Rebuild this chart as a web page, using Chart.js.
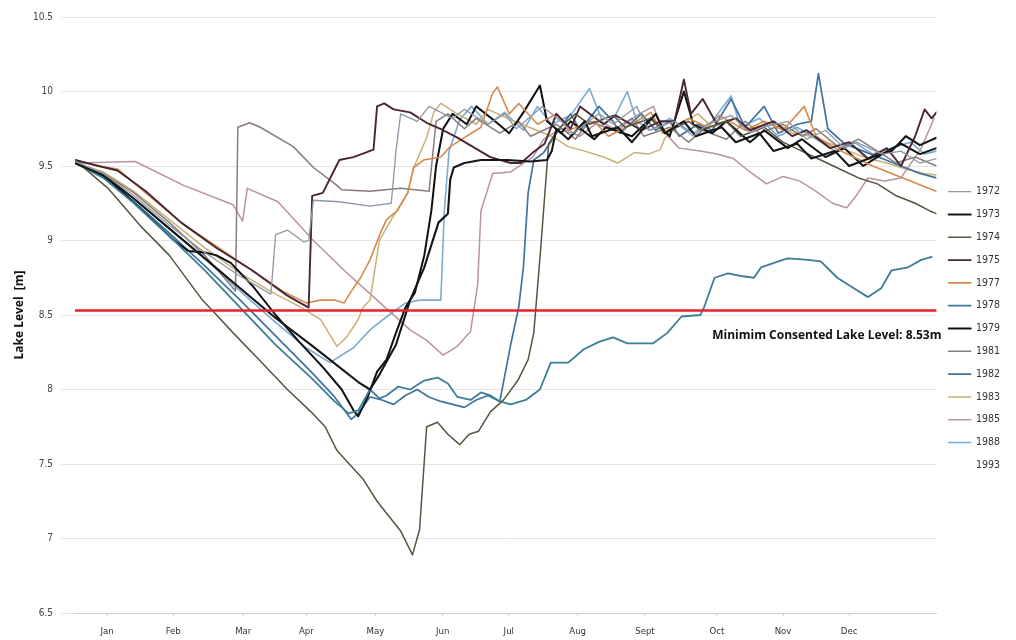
<!DOCTYPE html>
<html>
<head>
<meta charset="utf-8">
<title>Lake Level</title>
<script src="https://cdn.jsdelivr.net/npm/chart.js@4.4.1/dist/chart.umd.min.js"></script>
<style>
  html, body { margin: 0; padding: 0; background: #fff; }
  #lakeChart { display: block; }
</style>
</head>
<body>
<canvas id="lakeChart" width="1016" height="640"></canvas>
<script>
// ---- data: [day of year, lake level (m)] ----
const years = ['1972', '1973', '1974', '1975', '1977', '1978', '1979', '1981', '1982', '1983', '1985', '1988', '1993'];

const monthLabels = ['Jan', 'Feb', 'Mar', 'Apr', 'May', 'Jun', 'Jul', 'Aug', 'Sept', 'Oct', 'Nov', 'Dec'];
const monthTickDays = [13.6, 41.6, 71.3, 98, 127.3, 155.8, 183.8, 213, 241.5, 272, 300, 328];
const levelTicks = [6.5, 7, 7.5, 8, 8.5, 9, 9.5, 10, 10.5];

const minLevel = 8.53;

const lvl1972 = [[0,9.53],[12,9.45],[25,9.3],[40,9.1],[55,8.92],[70,8.76],[83,8.64],[85,9.04],[90,9.07],[97,8.99],[99,9.0],[101,9.27],[112,9.26],[125,9.23],[134,9.25],[136,9.6],[138,9.85],[145,9.8],[150,9.9],[160,9.82],[165,9.88],[175,9.78],[182,9.85],[187,9.75],[198,9.9],[206,9.8],[211,9.72],[222,9.85],[228,9.78],[238,9.9],[243,9.74],[254,9.8],[262,9.7],[268,9.78],[278,9.84],[286,9.72],[291,9.76],[302,9.8],[310,9.68],[318,9.74],[326,9.62],[331,9.66],[342,9.58],[350,9.6],[358,9.52],[365,9.55]];
const lvl1973 = [[0,9.52],[12,9.44],[25,9.28],[40,9.08],[55,8.88],[70,8.68],[85,8.48],[100,8.3],[112,8.15],[120,8.05],[125,8.0],[129,8.1],[136,8.3],[142,8.6],[148,8.82],[154,9.12],[158,9.18],[159,9.41],[160.5,9.49],[165,9.52],[172,9.54],[183,9.54],[193,9.53],[200,9.54],[202,9.6],[204,9.75],[209,9.68],[216,9.8],[219,9.7],[230,9.76],[236,9.66],[246,9.85],[250,9.72],[258,9.8],[263,9.7],[274,9.76],[280,9.66],[290,9.72],[296,9.6],[306,9.65],[312,9.55],[322,9.6],[328,9.5],[338,9.56],[346,9.6],[352,9.7],[358,9.64],[365,9.69]];
const lvl1974 = [[0,9.54],[14,9.35],[27.6,9.1],[40,8.9],[54,8.6],[60,8.5],[67,8.38],[78,8.2],[90,8.0],[100,7.85],[106,7.75],[111,7.59],[122,7.4],[128,7.25],[132,7.17],[138,7.05],[143,6.89],[146,7.06],[149,7.75],[153.6,7.78],[158,7.7],[163,7.63],[167,7.7],[171,7.72],[176,7.85],[181.6,7.93],[187.6,8.06],[192,8.2],[194.4,8.38],[197.3,8.94],[200.7,9.65],[205,9.75],[212,9.85],[218,9.78],[228,9.84],[233,9.76],[244,9.82],[250,9.72],[260,9.8],[265,9.74],[276,9.8],[282,9.7],[292,9.76],[300,9.66],[308,9.6],[316,9.54],[324,9.48],[332,9.42],[340,9.38],[348,9.3],[356,9.25],[362,9.2],[365,9.18]];
const lvl1975 = [[0,9.54],[10,9.5],[18,9.47],[30,9.33],[45,9.12],[60,8.95],[75,8.8],[90,8.63],[99,8.55],[100.5,9.3],[105,9.32],[112,9.54],[118,9.56],[126.5,9.61],[128,9.9],[131,9.92],[135,9.88],[142,9.86],[149,9.79],[156,9.74],[162,9.69],[170.6,9.61],[176,9.56],[184.6,9.52],[189,9.52],[194,9.59],[199,9.65],[204,9.85],[210,9.75],[214,9.9],[224,9.78],[229,9.84],[240,9.74],[248,9.8],[254,9.8],[258,10.08],[261,9.85],[266,9.95],[272,9.78],[280,9.82],[286,9.74],[296,9.8],[304,9.7],[310,9.74],[320,9.62],[328,9.66],[336,9.55],[344,9.62],[350,9.5],[356,9.7],[360,9.88],[363,9.82],[365,9.86]];
const lvl1977 = [[0,9.54],[10,9.5],[18,9.48],[30,9.32],[45,9.12],[60,8.96],[75,8.8],[88,8.66],[98,8.58],[104,8.6],[110,8.6],[114,8.58],[116.7,8.65],[121,8.75],[125,8.87],[129.4,9.05],[132,9.14],[136.6,9.2],[141,9.32],[143.5,9.49],[147.7,9.54],[155,9.56],[159,9.63],[163,9.67],[172,9.76],[177,9.99],[179,10.03],[184,9.85],[188,9.92],[196,9.78],[204,9.85],[209,9.74],[220,9.8],[226,9.7],[236,9.78],[244,9.86],[249,9.72],[260,9.82],[268,9.76],[273,9.84],[284,9.74],[292,9.8],[300,9.74],[309,9.9],[314,9.7],[322,9.62],[330,9.56],[338,9.5],[346,9.45],[354,9.4],[360,9.36],[365,9.33]];
const lvl1978 = [[0,9.52],[12,9.42],[25,9.25],[40,9.03],[55,8.8],[70,8.55],[85,8.3],[100,8.08],[110,7.92],[116,7.84],[120,7.86],[125,8.0],[129,7.94],[132,7.96],[137,8.02],[142,8.0],[148,8.06],[153.6,8.08],[158,8.04],[162,7.95],[167.6,7.93],[172,7.98],[176,7.96],[180,7.92],[184.6,7.9],[191,7.93],[197,8.0],[201.6,8.18],[209,8.18],[215.6,8.27],[222,8.32],[228,8.35],[234,8.31],[245,8.31],[251,8.38],[257,8.49],[265,8.5],[266.5,8.55],[271,8.75],[276.7,8.78],[283,8.76],[287.7,8.75],[290.7,8.82],[298,8.86],[302,8.88],[310.6,8.87],[316,8.86],[323,8.75],[330,8.68],[336,8.62],[341.6,8.68],[346,8.8],[353,8.82],[358.6,8.87],[363,8.89]];
const lvl1979 = [[0,9.53],[15,9.4],[30,9.18],[42,9.0],[48,8.93],[55,8.92],[60,8.9],[66,8.85],[75,8.7],[85,8.5],[95,8.32],[105,8.15],[113,8.0],[118,7.86],[120,7.82],[124,7.95],[128,8.12],[132,8.2],[136,8.38],[140,8.55],[144,8.65],[148,8.9],[151,9.2],[153,9.5],[156,9.75],[160,9.85],[166,9.78],[170,9.9],[178,9.8],[184,9.72],[190,9.86],[197,10.04],[200,9.8],[206,9.72],[210,9.8],[220,9.68],[225,9.76],[236,9.7],[244,9.82],[252,9.7],[258,10.0],[262,9.78],[270,9.72],[276,9.8],[286,9.66],[292,9.74],[302,9.62],[308,9.68],[318,9.56],[326,9.62],[334,9.5],[342,9.58],[350,9.65],[358,9.58],[365,9.62]];
const lvl1981 = [[0,9.53],[12,9.45],[25,9.32],[40,9.12],[55,8.9],[66,8.7],[68,8.66],[69,9.76],[74,9.79],[78.5,9.76],[92.5,9.63],[101,9.49],[111,9.37],[113,9.34],[125,9.33],[138,9.35],[150,9.33],[153,9.8],[158,9.85],[165,9.75],[170,9.82],[180,9.72],[188,9.8],[193,9.7],[204,9.78],[212,9.68],[218,9.8],[228,9.74],[236,9.82],[241,9.7],[252,9.76],[260,9.66],[266,9.74],[276,9.68],[284,9.8],[290,9.72],[300,9.78],[308,9.7],[314,9.75],[324,9.62],[332,9.68],[340,9.6],[348,9.52],[356,9.56],[365,9.5]];
const lvl1982 = [[0,9.53],[12,9.43],[25,9.26],[40,9.05],[55,8.83],[70,8.6],[85,8.36],[100,8.12],[110,7.95],[117,7.8],[120,7.84],[125,7.95],[130,7.93],[135,7.9],[140,7.96],[145,8.0],[150,7.95],[155,7.92],[160,7.9],[165,7.88],[170,7.93],[175,7.96],[180,7.92],[184.6,8.3],[188,8.55],[190,8.82],[192,9.32],[194.4,9.54],[198.6,9.59],[204,9.72],[210,9.85],[214,9.74],[222,9.9],[228,9.8],[231,9.72],[240,9.85],[246,9.74],[252,9.8],[256,9.7],[264,9.78],[270,9.74],[278,9.95],[284,9.76],[292,9.9],[298,9.72],[306,9.78],[312,9.8],[315,10.12],[319,9.75],[326,9.65],[334,9.6],[342,9.55],[350,9.5],[358,9.45],[365,9.42]];
const lvl1983 = [[0,9.52],[12,9.46],[25,9.33],[40,9.14],[55,8.95],[70,8.78],[85,8.64],[96,8.55],[104,8.47],[111,8.29],[115,8.35],[120,8.47],[122,8.55],[125,8.6],[129,9.0],[134,9.14],[141,9.32],[143.5,9.49],[149,9.69],[152,9.86],[155,9.92],[162,9.85],[170,9.78],[175,9.88],[186,9.8],[194,9.75],[202,9.7],[209,9.63],[216,9.6],[224,9.56],[230,9.52],[237,9.59],[243,9.58],[248,9.61],[250,9.69],[256,9.78],[264,9.85],[270,9.76],[280,9.82],[285,9.74],[296,9.8],[304,9.72],[312,9.7],[320,9.65],[328,9.6],[336,9.55],[344,9.52],[352,9.48],[360,9.45],[365,9.44]];
const lvl1985 = [[0,9.52],[25.5,9.53],[46,9.37],[67,9.24],[71,9.13],[73,9.35],[86,9.26],[101,9.0],[114,8.8],[128,8.6],[142,8.4],[149,8.33],[156,8.23],[162,8.29],[167.6,8.39],[170.6,8.7],[172,9.2],[177,9.45],[184.6,9.46],[194,9.56],[198.6,9.68],[206,9.75],[214,9.7],[222,9.8],[230,9.74],[238,9.84],[245,9.9],[250,9.72],[256,9.62],[265,9.6],[272,9.58],[279,9.55],[286,9.46],[293,9.38],[300,9.43],[307,9.4],[314,9.33],[321,9.25],[327,9.22],[331,9.3],[336,9.42],[343,9.4],[350,9.42],[358.6,9.62],[364,9.82]];
const lvl1988 = [[0,9.52],[12,9.44],[25,9.28],[40,9.08],[55,8.88],[70,8.66],[85,8.45],[98,8.28],[108,8.18],[118,8.28],[125,8.4],[133,8.5],[140,8.58],[146,8.6],[155,8.6],[156.5,9.2],[158.5,9.6],[163,9.81],[168,9.9],[175,9.78],[182,9.86],[190,9.74],[196,9.9],[202,9.78],[210,9.84],[218,10.02],[224,9.78],[229,9.84],[234,10.0],[238,9.8],[244,9.74],[252,9.82],[262,9.72],[270,9.8],[278,9.97],[282,9.76],[290,9.82],[298,9.7],[306,9.76],[314,9.68],[322,9.6],[330,9.66],[338,9.58],[346,9.62],[354,9.66],[360,9.58],[365,9.6]];
const lvl1993 = [];

const levels = [lvl1972, lvl1973, lvl1974, lvl1975, lvl1977, lvl1978, lvl1979, lvl1981, lvl1982, lvl1983, lvl1985, lvl1988, lvl1993];

// ---- styling ----
const lineColors = ['#8e98a6', '#161616', '#55553f', '#4a2633', '#d68a4c', '#3b7f96', '#101010', '#8a7c7c', '#3f73a0', '#c8b172', '#b9949c', '#79acd0', 'rgba(0,0,0,0)'];
const lineWidths = [1.3, 2.1, 1.5, 1.9, 1.6, 1.8, 2.0, 1.5, 1.7, 1.5, 1.5, 1.6, 1];
const FONT = '"Open Sans", "DejaVu Sans", sans-serif';
const NARROW = '"Liberation Sans Narrow", "DejaVu Sans Condensed", "Liberation Sans", sans-serif';

const datasets = [{
    label: '',
    data: [{ x: 0, y: minLevel }, { x: 365, y: minLevel }],
    borderColor: '#e8222c',
    backgroundColor: '#e8222c',
    borderWidth: 2.6
}];
years.forEach((yr, i) => {
    datasets.push({
        label: yr,
        data: levels[i].map(p => ({ x: p[0], y: p[1] })),
        borderColor: lineColors[i],
        backgroundColor: lineColors[i],
        borderWidth: lineWidths[i]
    });
});

// label under the minimum consented level line
const minLabel = {
    id: 'minLabel',
    afterDatasetsDraw(chart) {
        const { ctx, scales: { x, y } } = chart;
        ctx.save();
        ctx.font = 'bold 12px ' + FONT;
        ctx.fillStyle = '#111';
        ctx.textAlign = 'right';
        ctx.textBaseline = 'middle';
        ctx.fillText('Minimim Consented Lake Level: 8.53m', x.getPixelForValue(365) + 5, y.getPixelForValue(minLevel) + 25);
        ctx.restore();
    }
};

new Chart(document.getElementById('lakeChart'), {
    type: 'line',
    data: { datasets: datasets },
    plugins: [minLabel],
    options: {
        responsive: false,
        animation: false,
        layout: { padding: { top: 17, right: 6, bottom: 0, left: 12 } },
        elements: {
            point: { radius: 0 },
            line: { tension: 0, borderJoinStyle: 'round', borderCapStyle: 'round' }
        },
        scales: {
            x: {
                type: 'linear',
                min: 0,
                max: 365,
                afterFit: s => { s.height = 27; },
                afterBuildTicks: axis => { axis.ticks = monthTickDays.map(v => ({ value: v })); },
                ticks: {
                    autoSkip: false,
                    maxRotation: 0,
                    color: '#333',
                    font: { family: NARROW, size: 9.5 },
                    padding: 10,
                    callback: (val, i) => monthLabels[i]
                },
                grid: { drawOnChartArea: false, drawTicks: true, tickLength: 3, color: '#cfcfcf' },
                border: { color: '#cfcfcf' }
            },
            y: {
                min: 6.5,
                max: 10.5,
                afterFit: s => { s.width = 63; },
                afterBuildTicks: axis => { axis.ticks = levelTicks.map(v => ({ value: v })); },
                ticks: {
                    color: '#444',
                    font: { family: NARROW, size: 10 },
                    padding: 8,
                    callback: v => String(v)
                },
                grid: { color: '#e6e3e3', tickLength: 14 },
                border: { display: false },
                title: {
                    display: true,
                    text: 'Lake Level  [m]',
                    color: '#111',
                    font: { family: FONT, size: 12, weight: 'bold' },
                    padding: { top: 0, bottom: 4 }
                }
            }
        },
        plugins: {
            tooltip: { enabled: false },
            legend: {
                position: 'right',
                align: 'center',
                labels: {
                    boxWidth: 22,
                    boxHeight: 0,
                    padding: 12.3,
                    color: '#333',
                    font: { family: NARROW, size: 10.5 },
                    filter: item => item.text !== ''
                }
            }
        }
    }
});
</script>
</body>
</html>
